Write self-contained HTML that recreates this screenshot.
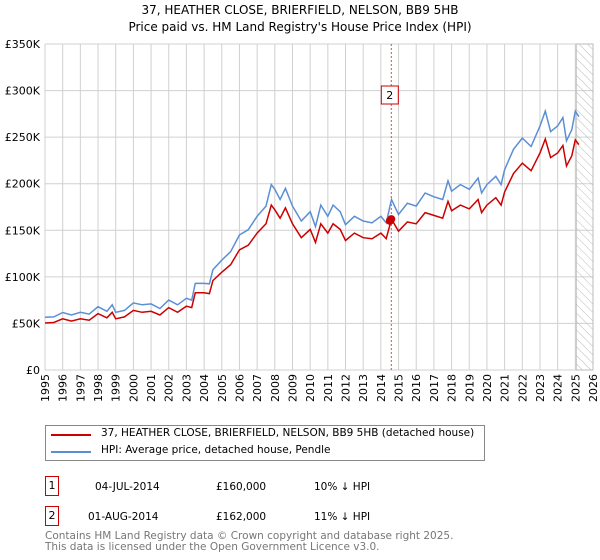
<!DOCTYPE html>
<html><head><meta charset="utf-8"><style>
body{margin:0;background:#fff;font-family:"DejaVu Sans","Liberation Sans",sans-serif;}
#wrap{position:relative;width:600px;height:560px;overflow:hidden;}
.t{position:absolute;font-size:12px;color:#000;white-space:nowrap;}
</style></head><body>
<div id="wrap">
<div class="t" style="left:0;width:600px;text-align:center;top:3px;font-size:12px">37, HEATHER CLOSE, BRIERFIELD, NELSON, BB9 5HB</div>
<div class="t" style="left:0;width:600px;text-align:center;top:20px;font-size:12px">Price paid vs. HM Land Registry's House Price Index (HPI)</div>
<svg id="plot" width="600" height="420" style="position:absolute;left:0;top:0"></svg>
<div style="position:absolute;left:45px;top:425px;width:440px;height:36px;border:1px solid #888;box-sizing:border-box"></div>
<div style="position:absolute;left:51px;top:434px;width:40px;height:2px;background:#cc0000"></div>
<div class="t" style="left:101px;top:427px;font-size:10.5px">37, HEATHER CLOSE, BRIERFIELD, NELSON, BB9 5HB (detached house)</div>
<div style="position:absolute;left:51px;top:451px;width:40px;height:2px;background:#5b8fd4"></div>
<div class="t" style="left:101px;top:444px;font-size:10.5px">HPI: Average price, detached house, Pendle</div>
<div style="position:absolute;left:45px;top:476px;width:14px;height:20px;border:1px solid #cc0000;box-sizing:border-box;font-size:11px;text-align:center;line-height:18px">1</div>
<div class="t" style="left:95px;top:481px;font-size:10.5px">04-JUL-2014</div>
<div class="t" style="left:216px;top:481px;font-size:10.5px">£160,000</div>
<div class="t" style="left:314px;top:481px;font-size:10.5px">10% ↓ HPI</div>
<div style="position:absolute;left:45px;top:506px;width:14px;height:20px;border:1px solid #cc0000;box-sizing:border-box;font-size:11px;text-align:center;line-height:18px">2</div>
<div class="t" style="left:88px;top:511px;font-size:10.5px">01-AUG-2014</div>
<div class="t" style="left:216px;top:511px;font-size:10.5px">£162,000</div>
<div class="t" style="left:314px;top:511px;font-size:10.5px">11% ↓ HPI</div>
<div class="t" style="left:45px;top:531px;font-size:10.5px;color:#777;line-height:11px">Contains HM Land Registry data © Crown copyright and database right 2025.<br>This data is licensed under the Open Government Licence v3.0.</div>
</div>
<script>
const hpiYears=[1995,1995.5,1996,1996.5,1997,1997.5,1998,1998.5,1998.8,1999,1999.5,2000,2000.5,2001,2001.5,2002,2002.5,2003,2003.3,2003.5,2004,2004.3,2004.5,2005,2005.5,2006,2006.5,2007,2007.5,2007.8,2008,2008.3,2008.6,2009,2009.5,2010,2010.3,2010.6,2011,2011.3,2011.7,2012,2012.5,2013,2013.5,2014,2014.3,2014.6,2015,2015.5,2016,2016.5,2017,2017.5,2017.8,2018,2018.5,2019,2019.5,2019.7,2020,2020.5,2020.8,2021,2021.5,2022,2022.5,2023,2023.3,2023.6,2024,2024.3,2024.5,2024.8,2025,2025.2];
const hpiValues=[56.6,57,61.7,59,62,60,68,63,70,62,64,72,70,71,66,75,70,77,75,93,93,92.5,107.6,118,127,145,150.6,165,176,199,194,183,195,176,160,170,154,177,165,177,170,156,165,160,158,165,158,183,167,179,176,190,186,183,203,192,199,194,206,190,199,208,199,215,237,249,240,262,278,256,262,271,246,258,278,272];
const priceValues=[50.5,51,55,52.5,55,53.5,60.5,56,62,55,57,64,62,63,59,67,62,68.5,67,83,83,82,96,105,113,129,134,147,157,177,172,163,174,157,142,151,137,157,147,157,151,139,147,142,141,147,141,162,149,159,157,169,166,163,181,171,177,173,183,169,177,185,177,191,211,222,214,233,248,228,233,241,219,230,247,242];
const saleYears=[2014.51,2014.59];
const saleValues=[160,162];
const yTicks=[0,50,100,150,200,250,300,350];
const yTickLabels=["£0","£50K","£100K","£150K","£200K","£250K","£300K","£350K"];
const xTicks=[1995,1996,1997,1998,1999,2000,2001,2002,2003,2004,2005,2006,2007,2008,2009,2010,2011,2012,2013,2014,2015,2016,2017,2018,2019,2020,2021,2022,2023,2024,2025,2026];
const X0=45,X1=593,Y0=370,Y1=44;
const FONT='DejaVu Sans, Liberation Sans, sans-serif';
const xs=y=>X0+(y-1995)/(2026-1995)*(X1-X0);
const ys=v=>Y0-v/350*(Y0-Y1);
const svg=document.getElementById('plot');const NS='http://www.w3.org/2000/svg';
function mk(tag,attrs,parent){const e=document.createElementNS(NS,tag);for(const k in attrs)e.setAttribute(k,attrs[k]);(parent||svg).appendChild(e);return e;}
const defs=mk('defs',{});
const pat=mk('pattern',{id:'hatch',width:6,height:6,patternUnits:'userSpaceOnUse',patternTransform:'rotate(-45)'},defs);
mk('line',{x1:0,y1:0,x2:0,y2:6,stroke:'#bbb','stroke-width':1},pat);
xTicks.forEach(t=>{const l=mk('line',{x1:xs(t),x2:xs(t),y1:Y1,y2:Y0,stroke:'#d0d0d0','stroke-width':1});


const tx=mk('text',{x:0,y:0,'font-size':11,'font-family':FONT,transform:`translate(${xs(t)+4},${Y0+4}) rotate(-90)`,'text-anchor':'end'});
tx.textContent=t;

});
yTicks.forEach((t,i)=>{const l=mk('line',{x1:X0,x2:X1,y1:ys(t),y2:ys(t),stroke:'#d0d0d0','stroke-width':1});


const tx=mk('text',{x:X0-5,y:ys(t)+4,'font-size':11,'text-anchor':'end','font-family':FONT});
tx.textContent=yTickLabels[i];

});
const h=mk('rect',{x:xs(2025.05),y:Y1,width:X1-xs(2025.05),height:Y0-Y1,fill:'url(#hatch)',stroke:'#bbb'});


const vl=mk('line',{x1:xs(saleYears[1]),x2:xs(saleYears[1]),y1:Y1,y2:Y0,stroke:'#ee4444','stroke-dasharray':'2,2','stroke-width':1});


const pts=(a,b)=>a.map((y,i)=>xs(y).toFixed(1)+','+ys(b[i]).toFixed(1)).join(' ');
const hl=mk('polyline',{points:pts(hpiYears,hpiValues),fill:'none',stroke:'#5b8fd4','stroke-width':1.5});


const pl=mk('polyline',{points:pts(hpiYears,priceValues),fill:'none',stroke:'#cc0000','stroke-width':1.5});


saleYears.forEach((y,i)=>{const c=mk('circle',{cx:xs(y),cy:ys(saleValues[i]),r:4,fill:'#cc0000'});

});
const b=mk('rect',{x:xs(saleYears[1])-10,y:86,width:17,height:18,fill:'#fff',stroke:'#cc0000'});


const bt=mk('text',{x:xs(saleYears[1])-1.5,y:99,'font-size':11,'text-anchor':'middle','font-family':FONT});
bt.textContent='2';


</script>
</body></html>
